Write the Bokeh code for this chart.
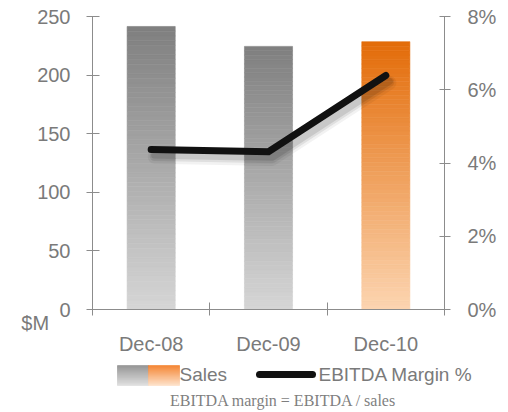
import numpy as np
from bokeh.plotting import figure
from bokeh.layouts import column, row
from bokeh.models import (Range1d, LinearAxis, FixedTicker)
from bokeh.core.properties import value
from bokeh.embed import file_html
from bokeh.resources import INLINE

# ---- data ----
categories = ["Dec-08", "Dec-09", "Dec-10"]
sales = [241.5, 224.5, 228.5]            # $M
ebitda_margin = [4.37, 4.31, 6.39]       # %
sales_ticks = [0, 50, 100, 150, 200, 250]
pct_ticks = [0, 2, 4, 6, 8]
pct_labels = ["0%", "2%", "4%", "6%", "8%"]
unit_label = "$M"
legend_labels = ["Sales", "EBITDA Margin %"]
footnote = "EBITDA margin = EBITDA / sales"

FONT = "Liberation Sans"
TXT = "#7a7a7a"
AXC = "#8c8c8c"
FS = "20px"
LFS = "19px"

def hex2rgb(h):
    h = h.lstrip("#")
    return np.array([int(h[i:i + 2], 16) for i in (0, 2, 4)], dtype=float)

def lerp(c0, c1, t):
    a, b = hex2rgb(c0), hex2rgb(c1)
    c = a + (b - a) * t
    return "#%02x%02x%02x" % tuple(int(round(v)) for v in c)

bar_colors = [("#d6d6d6", "#7f7f7f"), ("#d6d6d6", "#7f7f7f"), ("#fcd5b1", "#e36c09")]

p = figure(width=508, height=360, output_backend="svg", toolbar_location=None,
           x_range=Range1d(0, 3), y_range=Range1d(0, 250),
           x_axis_location=None, y_axis_location=None,
           min_border_left=92, min_border_right=64, min_border_top=16, min_border_bottom=51)
p.outline_line_color = None
p.xgrid.visible = False
p.ygrid.visible = False
p.extra_y_ranges = {"pct": Range1d(0, 8)}

# gradient bars as stacked slices
N = 60
bw = 0.41
L, R, B, T, C = [], [], [], [], []
for i, v in enumerate(sales):
    cx = i + 0.5
    for k in range(N):
        L.append(cx - bw / 2); R.append(cx + bw / 2)
        B.append(v * k / N); T.append(v * (k + 1) / N)
        C.append(lerp(bar_colors[i][0], bar_colors[i][1], (k + 0.5) / N))
p.quad(left=L, right=R, bottom=B, top=T, fill_color=C, line_color=C, line_width=0.6)

xs = [i + 0.5 for i in range(len(categories))]
# soft shadow
for w, a, dy in [(14, 0.05, 0.20), (10, 0.08, 0.18), (7, 0.10, 0.16)]:
    p.line([x + 0.03 for x in xs], [m - dy for m in ebitda_margin], y_range_name="pct",
           line_width=w, line_color="#000000", line_alpha=a, line_cap="round", line_join="round")
p.line(xs, ebitda_margin, y_range_name="pct", line_width=7, line_color="#111111",
       line_cap="round", line_join="miter")

def style(ax):
    ax.axis_line_color = AXC
    ax.major_tick_line_color = AXC
    ax.minor_tick_line_color = AXC
    ax.major_label_text_color = TXT
    ax.major_label_text_font = FONT
    ax.major_label_text_font_size = FS

left = LinearAxis(ticker=FixedTicker(ticks=sales_ticks, minor_ticks=[]))
style(left)
left.major_tick_in = 7; left.major_tick_out = 6
left.major_label_standoff = 16
left.axis_label = "\n" + unit_label
left.axis_label_orientation = "horizontal"
left.axis_label_align = "start"
left.axis_label_standoff = -15
left.axis_label_text_font = FONT
left.axis_label_text_font_size = FS
left.axis_label_text_font_style = "normal"
left.axis_label_text_color = TXT
p.add_layout(left, "left")

right = LinearAxis(y_range_name="pct", ticker=FixedTicker(ticks=pct_ticks, minor_ticks=[]))
style(right)
right.major_tick_in = 5; right.major_tick_out = 6
right.major_label_standoff = 17
right.major_label_overrides = {t: l for t, l in zip(pct_ticks, pct_labels)}
p.add_layout(right, "right")

bottom = LinearAxis(ticker=FixedTicker(ticks=xs, minor_ticks=list(range(len(categories) + 1))))
style(bottom)
bottom.major_tick_in = 0; bottom.major_tick_out = 0
bottom.minor_tick_in = 7; bottom.minor_tick_out = 6
bottom.major_label_standoff = 17
bottom.major_label_overrides = {x: c for x, c in zip(xs, categories)}
p.add_layout(bottom, "below")

# ---- legend + footnote ----
q = figure(width=508, height=52, output_backend="svg", toolbar_location=None,
           x_range=Range1d(0, 508), y_range=Range1d(52, 0),
           x_axis_location=None, y_axis_location=None,
           min_border_left=0, min_border_right=0, min_border_top=0, min_border_bottom=0)
q.outline_line_color = None
q.grid.visible = False

M = 20
lq, rq, bq, tq, cq = [], [], [], [], []
for (x0, x1, c_light, c_dark) in [(117, 148, "#dedede", "#8f8f8f"), (148, 179, "#fde0c6", "#f47f2a")]:
    for k in range(M):
        lq.append(x0); rq.append(x1)
        bq.append(5 + 20 * k / M); tq.append(5 + 20 * (k + 1) / M)
        cq.append(lerp(c_dark, c_light, (k + 0.5) / M))
q.quad(left=lq, right=rq, bottom=bq, top=tq, fill_color=cq, line_color=cq, line_width=0.6)
q.text(x=[179], y=[14], text=[legend_labels[0]], text_font=value(FONT), text_font_size=LFS,
       text_color=TXT, text_baseline="middle", text_align="left")
q.line([259, 312], [14, 14], line_width=7, line_color="#111111", line_cap="round")
q.text(x=[318], y=[14], text=[legend_labels[1]], text_font=value(FONT), text_font_size=LFS,
       text_color=TXT, text_baseline="middle", text_align="left")
q.text(x=[283], y=[40], text=[footnote], text_font=value("Liberation Serif"),
       text_font_size="16px", text_color="#7f7f7f", text_baseline="middle", text_align="center")

layout = column(p, row(q), spacing=0)
open("out.html", "w").write(file_html(layout, INLINE))
